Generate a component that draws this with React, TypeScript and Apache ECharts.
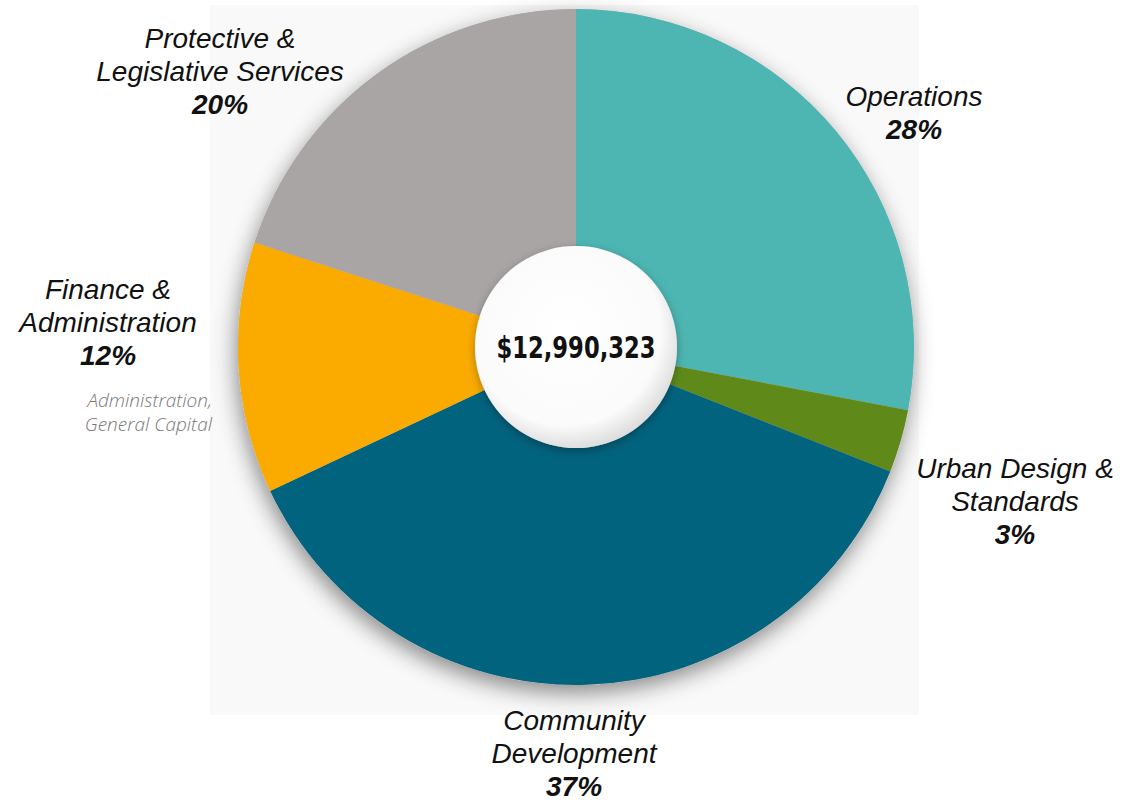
import React, { useEffect, useRef } from "react";
import * as echarts from "echarts";

const categories = [
  "Operations",
  "Urban Design &\nStandards",
  "Community\nDevelopment",
  "Finance &\nAdministration",
  "Protective &\nLegislative Services",
];
const percents = [28, 3, 37, 12, 20];
const colors = ["#4db6b2", "#5f8a1a", "#02637e", "#fbab00", "#aaa5a5"];
const totalLabel = "$12,990,323";
const financeNote = "Administration,\nGeneral Capital";

const labelPos: [number, number][] = [
  [914, 113],
  [1015, 501],
  [574, 753],
  [108, 322],
  [220, 71],
];

export default function App() {
  const ref = useRef<HTMLDivElement>(null);
  useEffect(() => {
    if (!ref.current) return;
    const chart = echarts.init(ref.current, undefined, { renderer: "svg" });
    const center = [576, 347];
    chart.setOption({
      animation: false,
      backgroundColor: "#ffffff",
      graphic: [
        {
          type: "rect",
          z: -10,
          silent: true,
          shape: { x: 210, y: 5, width: 709, height: 710 },
          style: { fill: "#f9f9f9" },
        },
        {
          type: "text",
          z: 100,
          x: 212,
          y: 412,
          style: {
            text: financeNote,
            align: "right",
            verticalAlign: "middle",
            fontFamily: "'Open Sans', Lato, sans-serif",
            fontStyle: "italic",
            fontWeight: 300,
            fontSize: 19,
            lineHeight: 24,
            fill: "#777777",
          },
        },
        {
          type: "text",
          z: 100,
          x: 576,
          y: 348,
          scaleX: 0.84,
          style: {
            text: totalLabel,
            align: "center",
            verticalAlign: "middle",
            fontFamily: "'DejaVu Sans Condensed', 'DejaVu Sans', sans-serif",
            fontWeight: "bold",
            fontSize: 30,
            fill: "#111111",
          },
        },
      ],
      series: [
        {
          type: "pie",
          silent: true,
          z: 1,
          center,
          radius: [0, 338],
          label: { show: false },
          labelLine: { show: false },
          itemStyle: {
            color: "#bbbbbb",
            shadowBlur: 22,
            shadowColor: "rgba(0,0,0,0.45)",
            shadowOffsetX: -2,
            shadowOffsetY: 8,
          },
          data: [{ value: 1, name: "shadow" }],
        },
        {
          type: "pie",
          z: 2,
          center,
          radius: [101, 338],
          startAngle: 90,
          clockwise: true,
          avoidLabelOverlap: false,
          label: {
            show: true,
            position: "outside",
            formatter: (p: any) => `{n|${p.name}}\n{p|${p.value}%}`,
            rich: {
              n: {
                fontFamily: "'Liberation Sans', Arial, sans-serif",
                fontStyle: "italic",
                fontSize: 28,
                lineHeight: 33,
                color: "#111111",
                align: "center",
              },
              p: {
                fontFamily: "'Liberation Sans', Arial, sans-serif",
                fontStyle: "italic",
                fontWeight: "bold",
                fontSize: 28,
                lineHeight: 33,
                color: "#111111",
                align: "center",
              },
            },
          },
          labelLine: { show: false },
          labelLayout: (params: any) => {
            const pos = labelPos[params.dataIndex];
            return { x: pos[0], y: pos[1], align: "center", verticalAlign: "middle" };
          },
          emphasis: { disabled: true },
          data: categories.map((c, i) => ({
            name: c,
            value: percents[i],
            itemStyle: { color: colors[i] },
          })),
        },
        {
          type: "pie",
          silent: true,
          z: 3,
          center,
          radius: [0, 101],
          label: { show: false },
          labelLine: { show: false },
          itemStyle: {
            color: {
              type: "radial",
              x: 0.45,
              y: 0.42,
              r: 0.6,
              colorStops: [
                { offset: 0, color: "#ffffff" },
                { offset: 0.78, color: "#fbfbfb" },
                { offset: 1, color: "#dadada" },
              ],
            },
            shadowBlur: 10,
            shadowColor: "rgba(0,0,0,0.3)",
            shadowOffsetY: 3,
          },
          data: [{ value: 1, name: "hole" }],
        },
      ],
    });
    return () => chart.dispose();
  }, []);
  return (
    <div
      ref={ref}
      style={{ position: "absolute", left: 0, top: 0, width: 1135, height: 803 }}
    />
  );
}
